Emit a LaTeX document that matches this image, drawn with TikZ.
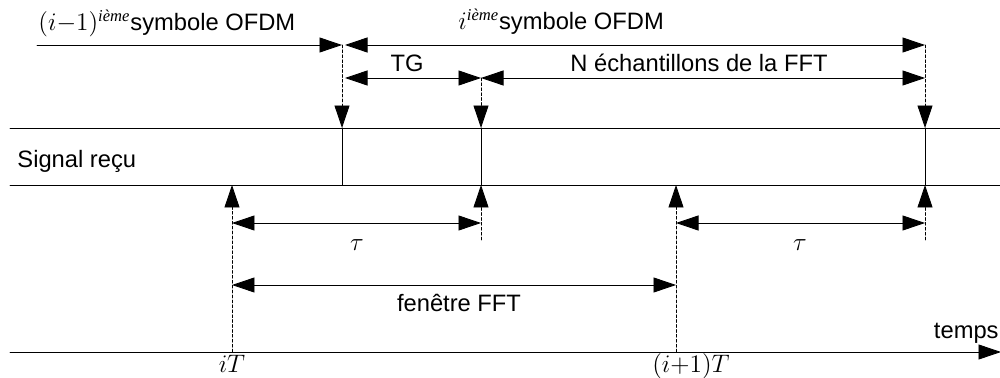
\documentclass[tikz,border=0pt]{standalone}
\usepackage{fontspec}
\setmainfont{Liberation Sans}
\newfontfamily\timesfont{Liberation Serif}
\usepackage{amsmath}
\usetikzlibrary{arrows.meta}

\newcommand{\ieme}{\textsuperscript{\timesfont\itshape ième}}

\begin{document}
\begin{tikzpicture}[x=0.02cm,y=-0.02cm,line cap=round,line width=0.5pt,
		pointe/.style={-{Triangle[length=0.45cm,width=0.3cm]}},
		deuxpointes/.style={{Triangle[length=0.45cm,width=0.3cm]}-{Triangle[length=0.45cm,width=0.3cm]}},
		tirets/.style={dash pattern=on 1.6pt off 1.2pt},
		txt/.style={font=\fontsize{13.5}{16}\selectfont,inner sep=0pt}]
	\useasboundingbox (0,0) rectangle (1000,378);
	% bande du signal recu
	\coordinate (sg1) at (10,128); \coordinate (sd1) at (1000,128);
	\coordinate (sg2) at (10,185); \coordinate (sd2) at (1000,185);
	\draw (sg1) -- (sd1);
	\draw (sg2) -- (sd2);
	\node[txt,anchor=base west] (signal) at (17,168) {Signal reçu};
	% limites des symboles OFDM
	\foreach \n/\x/\y in {a/342/45,b/481/78,c/925/45} {
		\coordinate (\n0) at (\x,\y);
		\coordinate (\n1) at (\x,128);
		\coordinate (\n2) at (\x,185);
		\draw[tirets,pointe] (\n0) -- (\n1);
		\draw (\n1) -- (\n2);
	}
	\coordinate (s0) at (37,45);
	\coordinate (g0) at (345,45);
	\coordinate (g1) at (345,78);
	\draw[pointe] (s0) -- (a0);
	\draw[deuxpointes] (g0) -- (c0);
	\draw[deuxpointes] (g1) -- (b0);
	\coordinate (c4) at (925,78);
	\draw[deuxpointes] (b0) -- (c4);
	\node[txt,anchor=base west] (symbprec) at (38,31) {$(i{-}1)$\ieme symbole OFDM};
	\node[txt,anchor=base west] (symb) at (458,30) {$i$\ieme symbole OFDM};
	\node[txt,anchor=base] (tg) at (407,72) {TG};
	\node[txt,anchor=base] (nfft) at (699,72) {N échantillons de la FFT};
	% instants de la fenetre FFT
	\coordinate (p0) at (232,352); \coordinate (p1) at (232,185);
	\coordinate (q0) at (676,352); \coordinate (q1) at (676,185);
	\coordinate (b3) at (481,240); \coordinate (c3) at (925,240);
	\draw[tirets,pointe] (p0) -- (p1);
	\draw[tirets,pointe] (q0) -- (q1);
	\draw[tirets,pointe] (b3) -- (b2);
	\draw[tirets,pointe] (c3) -- (c2);
	\coordinate (p2) at (232,223); \coordinate (b5) at (481,223);
	\coordinate (q2) at (676,223); \coordinate (c5) at (925,223);
	\coordinate (p3) at (232,285); \coordinate (q3) at (676,285);
	\draw[deuxpointes] (p2) -- (b5);
	\draw[deuxpointes] (q2) -- (c5);
	\draw[deuxpointes] (p3) -- (q3);
	\node[txt] (tau1) at (357,245) {$\tau$};
	\node[txt] (tau2) at (800,245) {$\tau$};
	\node[txt] (fen) at (459,303) {fenêtre FFT};
	% axe du temps
	\coordinate (t0) at (10,352); \coordinate (t1) at (1001,352);
	\draw[pointe] (t0) -- (t1);
	\node[txt,anchor=base east] (temps) at (999,338) {temps};
	\node[txt,anchor=north] (it) at (232,355) {$iT$};
	\node[txt,anchor=north] (i1t) at (691,353) {$(i{+}1)T$};
\end{tikzpicture}
\end{document}
